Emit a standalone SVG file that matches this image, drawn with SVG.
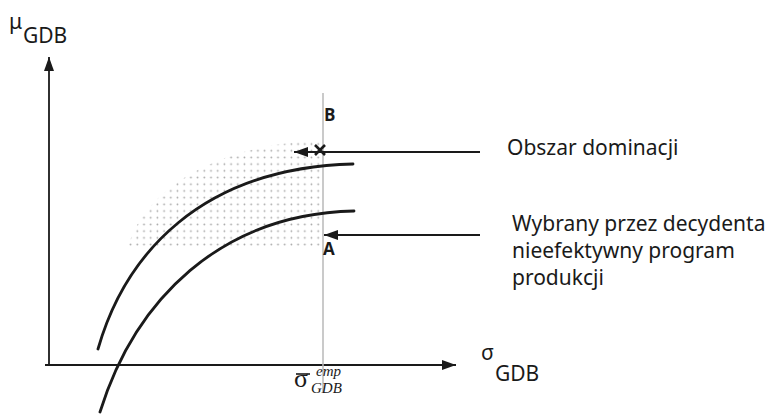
<svg xmlns="http://www.w3.org/2000/svg" width="772" height="415" viewBox="0 0 772 415">
<style>
.ax{stroke:#1a1a1a;stroke-width:1.8;fill:none}
.cv{stroke:#1a1a1a;stroke-width:2.8;fill:none;stroke-linecap:round}
.lbl{font-family:"Noto Sans","Open Sans",sans-serif;font-size:21px;fill:#1a1a1a}
.bold{font-family:"Open Sans","Noto Sans",sans-serif;font-weight:bold;font-size:17px;fill:#1a1a1a}
.ser{font-family:"Liberation Serif",serif;fill:#1a1a1a}
</style>
<defs>
<marker id="ah2" viewBox="0 0 14 10" refX="14" refY="5" markerWidth="14" markerHeight="11" markerUnits="userSpaceOnUse" orient="auto">
<path d="M0,0 L14,5 L0,10 Z" fill="#1a1a1a"/>
</marker>
<pattern id="dots" width="6.7" height="6.7" patternUnits="userSpaceOnUse">
<circle cx="3.3" cy="3.3" r="0.9" fill="#a8a8a8"/>
</pattern>
<clipPath id="dom">
<path d="M128,247 C140,200 200,150 300,142 L322,142 L322,247 Z"/>
</clipPath>
</defs>
<g id="domination-area">
<rect x="120" y="138" width="205" height="112" fill="url(#dots)" clip-path="url(#dom)"/>
</g>
<g id="axes">
<line class="ax" x1="49" y1="365" x2="49" y2="57" marker-end="url(#ah2)"/>
<line class="ax" x1="45" y1="365" x2="456" y2="365" marker-end="url(#ah2)"/>
<line x1="323" y1="93" x2="323" y2="392" stroke="#b8b8b8" stroke-width="1.5"/>
</g>
<g id="curves">
<path class="cv" d="M98,349 C125,255 200,168 353,164"/>
<path class="cv" d="M100,412 C135,300 220,214 354,211"/>
</g>
<g id="connectors">
<line x1="480" y1="152" x2="294" y2="152" stroke="#1a1a1a" stroke-width="2" marker-end="url(#ah2)"/>
<line x1="480" y1="235" x2="324" y2="235" stroke="#1a1a1a" stroke-width="2" marker-end="url(#ah2)"/>
</g>
<g id="point-B">
<path d="M315,145 L325,155 M325,145 L315,155" stroke="#1a1a1a" stroke-width="2.6"/>
<text class="bold" x="324" y="121">B</text>
</g>
<g id="point-A">
<text class="bold" x="323" y="255">A</text>
</g>
<g id="labels">
<text class="lbl" x="9" y="29" font-size="18">μ</text>
<text class="lbl" x="23" y="43">GDB</text>
<text class="lbl" x="481" y="360" font-size="18">σ</text>
<text class="lbl" x="495" y="381">GDB</text>
<text class="lbl" x="507" y="155">Obszar dominacji</text>
<text class="lbl" x="512" y="231">Wybrany przez decydenta</text>
<text class="lbl" x="512" y="258">nieefektywny program</text>
<text class="lbl" x="512" y="285">produkcji</text>
<text class="ser" x="294" y="387" font-size="26">σ</text>
<line x1="296" y1="374" x2="310" y2="374" stroke="#1a1a1a" stroke-width="1.6"/>
<text class="ser" x="316" y="376" font-size="15" font-style="italic">emp</text>
<text class="ser" x="311" y="393" font-size="15" font-style="italic">GDB</text>
</g>
</svg>
